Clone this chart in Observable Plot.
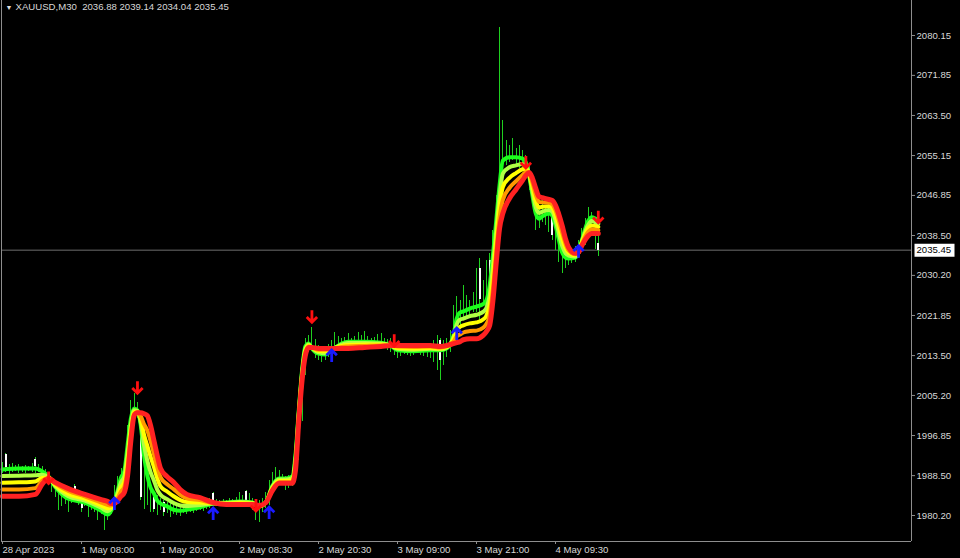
<!DOCTYPE html>
<html><head><meta charset="utf-8">
<script src="https://cdn.jsdelivr.net/npm/d3@7"></script>
<script src="https://cdn.jsdelivr.net/npm/@observablehq/plot@0.6"></script>
<style>
html,body{margin:0;padding:0;background:#000;}
#chart{width:960px;height:558px;overflow:hidden;}
</style></head><body><div id="chart"></div>
<script>
// ---------- data ----------
const symbolName = "XAUUSD,M30";
const lastBar = [2036.88, 2039.14, 2034.04, 2035.45]; // O H L C of current bar
const priceTicks = [2080.15, 2071.85, 2063.50, 2055.15, 2046.85, 2038.50, 2030.20, 2021.85, 2013.50, 2005.20, 1996.85, 1988.50, 1980.20];
const timeTickIdx = [0, 24, 48, 72, 96, 120, 144, 168];
const timeTickLabels = ["28 Apr 2023", "1 May 08:00", "1 May 20:00", "2 May 08:30", "2 May 20:30", "3 May 09:00", "3 May 21:00", "4 May 09:30"];

const barHigh = [
1991.2,1993.1,1990.9,1991.0,1990.6,1990.8,1990.4,1990.7,1990.5,1991.1,
1992.2,1990.9,1990.3,1989.8,1989.2,1987.9,1986.6,1985.0,1985.4,1984.6,
1984.4,1985.4,1986.6,1985.4,1984.6,1983.9,1983.3,1983.5,1982.9,1982.7,
1982.5,1981.7,1982.1,1983.3,1986.4,1988.3,1990.0,1991.2,1998.9,2004.1,
2005.6,2003.7,2001.2,1990.5,1989.6,1987.1,1985.4,1984.4,1983.7,1983.3,
1982.9,1982.7,1982.3,1982.5,1982.3,1982.5,1982.3,1982.7,1982.5,1982.7,
1982.9,1982.7,1983.3,1983.7,1985.0,1983.5,1983.3,1983.5,1983.3,1983.7,
1983.5,1983.9,1985.0,1984.4,1985.4,1984.8,1983.7,1983.3,1983.3,1983.7,
1985.0,1987.5,1989.2,1990.2,1989.6,1988.7,1988.3,1988.5,1989.6,1995.8,
2006.2,2013.5,2017.1,2017.7,2019.4,2016.8,2015.6,2015.4,2015.0,2015.8,
2016.6,2018.3,2017.5,2017.1,2017.3,2018.1,2017.1,2017.5,2018.3,2017.7,
2018.5,2017.5,2017.1,2017.3,2017.9,2018.1,2017.1,2016.8,2017.1,2017.3,
2016.4,2015.6,2015.4,2015.2,2015.4,2015.2,2015.4,2015.6,2015.2,2015.4,
2015.6,2016.6,2017.7,2017.1,2016.6,2017.1,2018.7,2023.9,2025.8,2025.0,
2028.1,2026.0,2025.0,2026.6,2031.6,2033.7,2029.1,2033.3,2034.8,2039.6,
2046.8,2081.8,2062.5,2058.3,2057.2,2058.7,2056.6,2057.2,2056.2,2055.2,
2053.1,2049.9,2046.8,2044.8,2045.8,2044.8,2046.2,2044.8,2042.7,2039.6,
2037.5,2036.4,2035.4,2035.8,2036.2,2037.5,2040.0,2042.0,2044.3,2043.3,
2042.0,2039.14
];
const barLow = [
1988.9,1989.2,1988.8,1989.1,1989.3,1988.9,1989.2,1989.0,1989.4,1989.1,
1989.0,1989.2,1988.5,1987.6,1986.4,1985.0,1983.9,1981.2,1982.1,1982.5,
1980.8,1982.7,1984.2,1982.3,1980.8,1982.1,1979.8,1981.2,1980.8,1979.2,
1980.4,1977.1,1979.2,1980.4,1981.7,1983.3,1986.2,1987.1,1987.9,1995.8,
2000.0,2000.4,1983.3,1981.5,1982.3,1980.8,1980.8,1980.2,1981.2,1980.0,
1980.6,1979.8,1980.4,1980.2,1980.0,1980.6,1980.4,1980.8,1980.6,1981.0,
1981.2,1981.0,1981.5,1981.7,1982.3,1982.1,1982.3,1982.1,1982.1,1982.3,
1982.1,1982.3,1982.3,1982.1,1982.3,1982.1,1981.2,1979.2,1978.7,1980.8,
1981.7,1982.3,1984.4,1986.4,1986.6,1986.4,1985.4,1985.8,1986.2,1987.1,
1991.6,1999.8,2009.4,2014.1,2014.6,2012.9,2012.5,2012.1,2012.5,2013.1,
2014.1,2015.2,2015.6,2015.0,2015.2,2015.4,2015.2,2015.0,2015.4,2015.2,
2015.4,2015.0,2015.2,2015.0,2015.2,2015.4,2015.0,2014.6,2014.1,2013.5,
2012.9,2013.3,2013.7,2013.5,2013.3,2013.5,2013.9,2013.5,2013.3,2013.1,
2012.9,2012.1,2010.4,2008.3,2011.4,2013.1,2014.1,2015.6,2016.6,2019.8,
2021.2,2021.6,2021.6,2022.5,2022.5,2020.8,2023.9,2025.0,2025.6,2031.2,
2036.4,2045.8,2051.0,2053.1,2053.7,2054.1,2053.1,2052.5,2052.0,2051.0,
2047.9,2044.8,2039.5,2040.0,2041.2,2040.6,2039.2,2037.5,2035.4,2032.9,
2030.6,2031.6,2032.3,2032.7,2032.9,2033.7,2035.0,2036.4,2038.5,2039.1,
2035.6,2034.04
];
// bearish (white) candle bodies
const bearIdx   = [1, 10, 22, 24, 42, 46, 49, 64, 74, 133, 145, 148, 167, 181];
const bearOpen  = [1992.8, 1991.8, 1986.3, 1984.2, 2000.2, 1984.0, 1983.0, 1984.8, 1985.2, 2016.6, 2031.6, 2033.3, 2043.9, 2036.88];
const bearClose = [1990.2, 1990.3, 1984.6, 1981.6, 1984.0, 1981.5, 1980.8, 1982.8, 1983.0, 2012.5, 2025.2, 2027.1, 2038.5, 2035.45];

// moving-average ribbon (bar index knots, fast -> slow)
const maIdx = [0,5,10,12,14,16,20,25,30,32,
33,34,35,36,37,38,39,40,41,42,
43,44,45,46,47,48,50,52,54,56,
60,64,68,72,76,78,80,82,84,86,
88,89,90,91,92,93,94,96,98,100,
103,105,110,115,118,120,125,130,133,135,
137,138,139,140,142,144,146,147,148,149,
150,151,152,154,156,158,159,160,161,162,
163,164,166,167,168,170,171,172,174,175,
176,178,179,181];
const maGreen = [1989.8,1990.0,1990.0,1989.4,1988.3,1986.2,1983.7,1982.9,1981.2,1980.4,
1981.2,1982.9,1985.4,1988.1,1989.4,1994.8,2000.4,2002.5,2002.1,1999.0,
1992.7,1988.5,1986.0,1984.8,1983.3,1982.7,1982.1,1981.4,1981.2,1981.4,
1981.9,1982.7,1982.9,1983.1,1982.9,1982.1,1982.9,1986.4,1987.9,1987.9,
1988.3,1992.7,2002.1,2010.4,2015.4,2016.0,2015.0,2013.9,2013.7,2014.6,
2016.0,2016.4,2016.4,2016.2,2015.6,2014.6,2014.4,2014.6,2014.6,2015.0,
2017.7,2021.2,2022.5,2022.7,2023.3,2023.7,2024.2,2025.0,2028.1,2034.4,
2041.6,2048.9,2054.1,2054.8,2054.8,2054.5,2053.7,2051.0,2046.8,2043.1,
2042.0,2042.5,2043.1,2042.7,2040.6,2035.0,2033.9,2033.7,2033.9,2035.0,
2037.5,2041.6,2042.3,2041.6];
const maLime = [1988.4,1988.5,1988.6,1988.7,1988.2,1986.4,1984.2,1983.3,1981.8,1981.1,
1981.6,1982.9,1984.9,1987.1,1988.3,1993.2,1999.2,2002.1,2002.0,1999.6,
1994.9,1991.6,1989.2,1987.5,1985.6,1984.5,1983.6,1982.8,1982.3,1982.2,
1982.4,1982.7,1982.8,1983.0,1982.8,1982.1,1982.9,1986.2,1987.7,1987.7,
1988.0,1991.9,2001.5,2009.9,2014.9,2015.8,2015.1,2014.2,2014.0,2014.7,
2015.8,2016.1,2016.1,2016.0,2015.6,2014.9,2014.7,2014.9,2014.8,2015.2,
2017.3,2020.0,2021.0,2021.2,2021.7,2022.0,2022.6,2023.4,2026.0,2032.1,
2039.4,2046.7,2051.4,2052.7,2053.1,2053.4,2053.0,2051.2,2047.7,2044.4,
2043.2,2043.5,2043.8,2043.5,2041.7,2036.4,2034.9,2034.3,2034.1,2035.0,
2037.2,2040.8,2041.5,2040.9];
const maYellow = [1987.0,1987.1,1987.3,1988.0,1988.1,1986.6,1984.7,1983.7,1982.3,1981.7,
1981.9,1982.8,1984.3,1986.1,1987.2,1991.6,1998.1,2001.7,2001.8,2000.3,
1997.0,1994.7,1992.4,1990.3,1988.0,1986.3,1985.2,1984.2,1983.4,1983.0,
1982.9,1982.8,1982.7,1982.8,1982.7,1982.2,1982.9,1985.9,1987.4,1987.4,
1987.6,1991.2,2001.0,2009.4,2014.5,2015.6,2015.1,2014.5,2014.4,2014.8,
2015.5,2015.7,2015.8,2015.8,2015.6,2015.1,2015.0,2015.1,2015.0,2015.3,
2016.9,2018.7,2019.5,2019.8,2020.2,2020.4,2021.0,2021.8,2024.0,2029.7,
2037.3,2044.5,2048.6,2050.5,2051.5,2052.3,2052.4,2051.3,2048.6,2045.7,
2044.3,2044.5,2044.6,2044.3,2042.7,2037.8,2035.9,2034.9,2034.4,2035.0,
2037.0,2040.1,2040.6,2040.3];
const maOrange = [1985.6,1985.6,1985.9,1987.4,1988.0,1986.9,1985.3,1984.2,1982.9,1982.4,
1982.3,1982.7,1983.8,1985.2,1986.1,1990.1,1996.9,2001.4,2001.7,2000.9,
1999.2,1997.9,1995.7,1993.0,1990.3,1988.2,1986.7,1985.7,1984.5,1983.8,
1983.4,1982.8,1982.6,1982.6,1982.6,1982.2,1982.9,1985.6,1987.1,1987.1,
1987.2,1990.4,2000.4,2008.8,2014.0,2015.4,2015.2,2014.7,2014.7,2014.9,
2015.3,2015.4,2015.5,2015.6,2015.6,2015.4,2015.3,2015.4,2015.2,2015.5,
2016.4,2017.5,2017.9,2018.3,2018.6,2018.7,2019.3,2020.1,2021.9,2027.4,
2035.1,2042.2,2045.9,2048.4,2049.8,2051.1,2051.7,2051.5,2049.5,2047.0,
2045.5,2045.4,2045.3,2045.0,2043.8,2039.2,2036.9,2035.4,2034.6,2035.0,
2036.7,2039.3,2039.8,2039.6];
const maRed = [1984.2,1984.2,1984.6,1986.7,1987.9,1987.1,1985.8,1984.6,1983.5,1983.1,
1982.7,1982.7,1983.3,1984.2,1985.0,1988.5,1995.8,2001.0,2001.6,2001.6,
2001.4,2001.0,1998.9,1995.8,1992.7,1990.0,1988.3,1987.1,1985.6,1984.6,
1983.9,1982.9,1982.5,1982.5,1982.5,1982.3,1982.9,1985.4,1986.9,1986.9,
1986.9,1989.6,1999.8,2008.3,2013.5,2015.2,2015.2,2015.0,2015.0,2015.0,
2015.0,2015.0,2015.2,2015.4,2015.6,2015.6,2015.6,2015.6,2015.4,2015.6,
2016.0,2016.2,2016.4,2016.8,2017.0,2017.0,2017.7,2018.5,2019.8,2025.0,
2032.9,2040.0,2043.1,2046.2,2048.1,2050.0,2051.0,2051.6,2050.4,2048.3,
2046.6,2046.4,2046.0,2045.8,2044.8,2040.6,2037.9,2036.0,2034.8,2035.0,
2036.4,2038.5,2038.9,2038.9];

// signal arrows
const downIdx = [14, 41, 77, 94, 119, 159, 181];
const downPrice = [1988.0, 2006.8, 1982.3, 2021.6, 2016.6, 2053.7, 2042.3];
const upIdx = [34, 64, 81, 100, 138, 175];
const upPrice = [1982.7, 1980.6, 1980.8, 2013.5, 2018.1, 2035.2];

// ---------- build ----------
const xDomain = [-0.304, 276.15];
const yDomain = [1974.786, 2087.438];
const textColor = "#d8d8d8";
const lineGray = "#8e8e8e";
const fontFamily = "'Liberation Sans', Arial, sans-serif";
const fs = 9.6;

const nBars = Math.min(barHigh.length, barLow.length);
const bars = d3.range(nBars).map(i => ({i, hi: barHigh[i], lo: barLow[i]}));
const bears = bearIdx.map((i, k) => ({i, o: bearOpen[k], c: bearClose[k]}));
const ribbonDefs = [
  {vals: maGreen,  color: "#1cff1c", w: 4},
  {vals: maLime,   color: "#b0ff44", w: 4},
  {vals: maYellow, color: "#ffff00", w: 4},
  {vals: maOrange, color: "#ff9800", w: 4},
  {vals: maRed,    color: "#ff2222", w: 5}
];
const ribbonMarks = ribbonDefs.map(def =>
  Plot.line(maIdx.map((i, k) => ({i, v: def.vals[k]})), {
    x: "i", y: "v", stroke: def.color, strokeWidth: def.w,
    curve: "monotone-x", strokeLinejoin: "round", strokeLinecap: "round"
  })
);
const downs = downIdx.map((i, k) => ({i, p: downPrice[k]}));
const ups = upIdx.map((i, k) => ({i, p: upPrice[k]}));

const arrowDown = {draw(ctx, size) {
  const r = Math.sqrt(size / Math.PI);
  ctx.moveTo(0, -r); ctx.lineTo(0, r * 0.85);
  ctx.moveTo(-r * 0.8, r * 0.05); ctx.lineTo(0, r * 0.85); ctx.lineTo(r * 0.8, r * 0.05);
}};
const arrowUp = {draw(ctx, size) {
  const r = Math.sqrt(size / Math.PI);
  ctx.moveTo(0, r); ctx.lineTo(0, -r * 0.85);
  ctx.moveTo(-r * 0.8, -r * 0.05); ctx.lineTo(0, -r * 0.85); ctx.lineTo(r * 0.8, -r * 0.05);
}};
// label box shape for the current-price tag
const tagBox = {draw(ctx) { ctx.rect(0, -6.5, 40, 13); }};

const labelMap = new Map(timeTickIdx.map((t, k) => [t, timeTickLabels[k]]));
const header = symbolName + "\u00a0 " + lastBar.map(v => v.toFixed(2)).join(" ");

const chart = Plot.plot({
  width: 960, height: 558,
  marginLeft: 1, marginRight: 49, marginTop: 0, marginBottom: 17,
  style: {background: "#000", color: textColor, fontFamily, fontSize: fs + "px", overflow: "visible"},
  x: {domain: xDomain, axis: null, label: null},
  y: {domain: yDomain, axis: null, label: null},
  marks: [
    Plot.ruleY([lastBar[3]], {stroke: "#6e6e6e", strokeWidth: 1}),
    Plot.ruleX(bars, {x: "i", y1: "lo", y2: "hi", stroke: "#1fd01f", strokeWidth: 1, shapeRendering: "crispEdges"}),
    Plot.ruleX(bears, {x: "i", y1: "o", y2: "c", stroke: "#ffffff", strokeWidth: 2, shapeRendering: "crispEdges"}),
    ...ribbonMarks,
    Plot.dot(ups, {x: "i", y: "p", symbol: arrowUp, r: 6.5, stroke: "#1a1aff", strokeWidth: 2.8, fill: "none"}),
    Plot.dot(downs, {x: "i", y: "p", symbol: arrowDown, r: 6.5, stroke: "#ff1010", strokeWidth: 2.8, fill: "none"}),
    Plot.axisY(priceTicks, {anchor: "right", label: null, tickSize: 3, tickPadding: 2, tickFormat: d => d.toFixed(2),
      stroke: lineGray, fill: textColor, fontSize: fs}),
    Plot.axisX(timeTickIdx, {anchor: "bottom", label: null, tickSize: 3, tickPadding: 2, textAnchor: "start",
      tickFormat: d => labelMap.get(d), stroke: lineGray, fill: textColor, fontSize: fs}),
    Plot.ruleX([xDomain[0], xDomain[1]], {stroke: lineGray, strokeWidth: 1}),
    Plot.ruleY([yDomain[0]], {stroke: lineGray, strokeWidth: 1}),
    Plot.text(["\u25BC"], {frameAnchor: "top-left", dx: 4, dy: 5, fontSize: 7, fill: "#e0e0e0", textAnchor: "start", lineAnchor: "top"}),
    Plot.text([header], {frameAnchor: "top-left", dx: 14, dy: 3, fontSize: fs, fill: textColor, textAnchor: "start", lineAnchor: "top"}),
    Plot.dot([lastBar[3]], {x: () => xDomain[1], y: d => d, dx: 3, symbol: tagBox, r: 5, fill: "#ffffff", stroke: "none"}),
    Plot.text([lastBar[3]], {x: () => xDomain[1], y: d => d, text: d => d.toFixed(2), dx: 5, textAnchor: "start",
      fill: "#000", fontSize: fs})
  ]
});
document.getElementById("chart").append(chart);
</script>
</body></html>
